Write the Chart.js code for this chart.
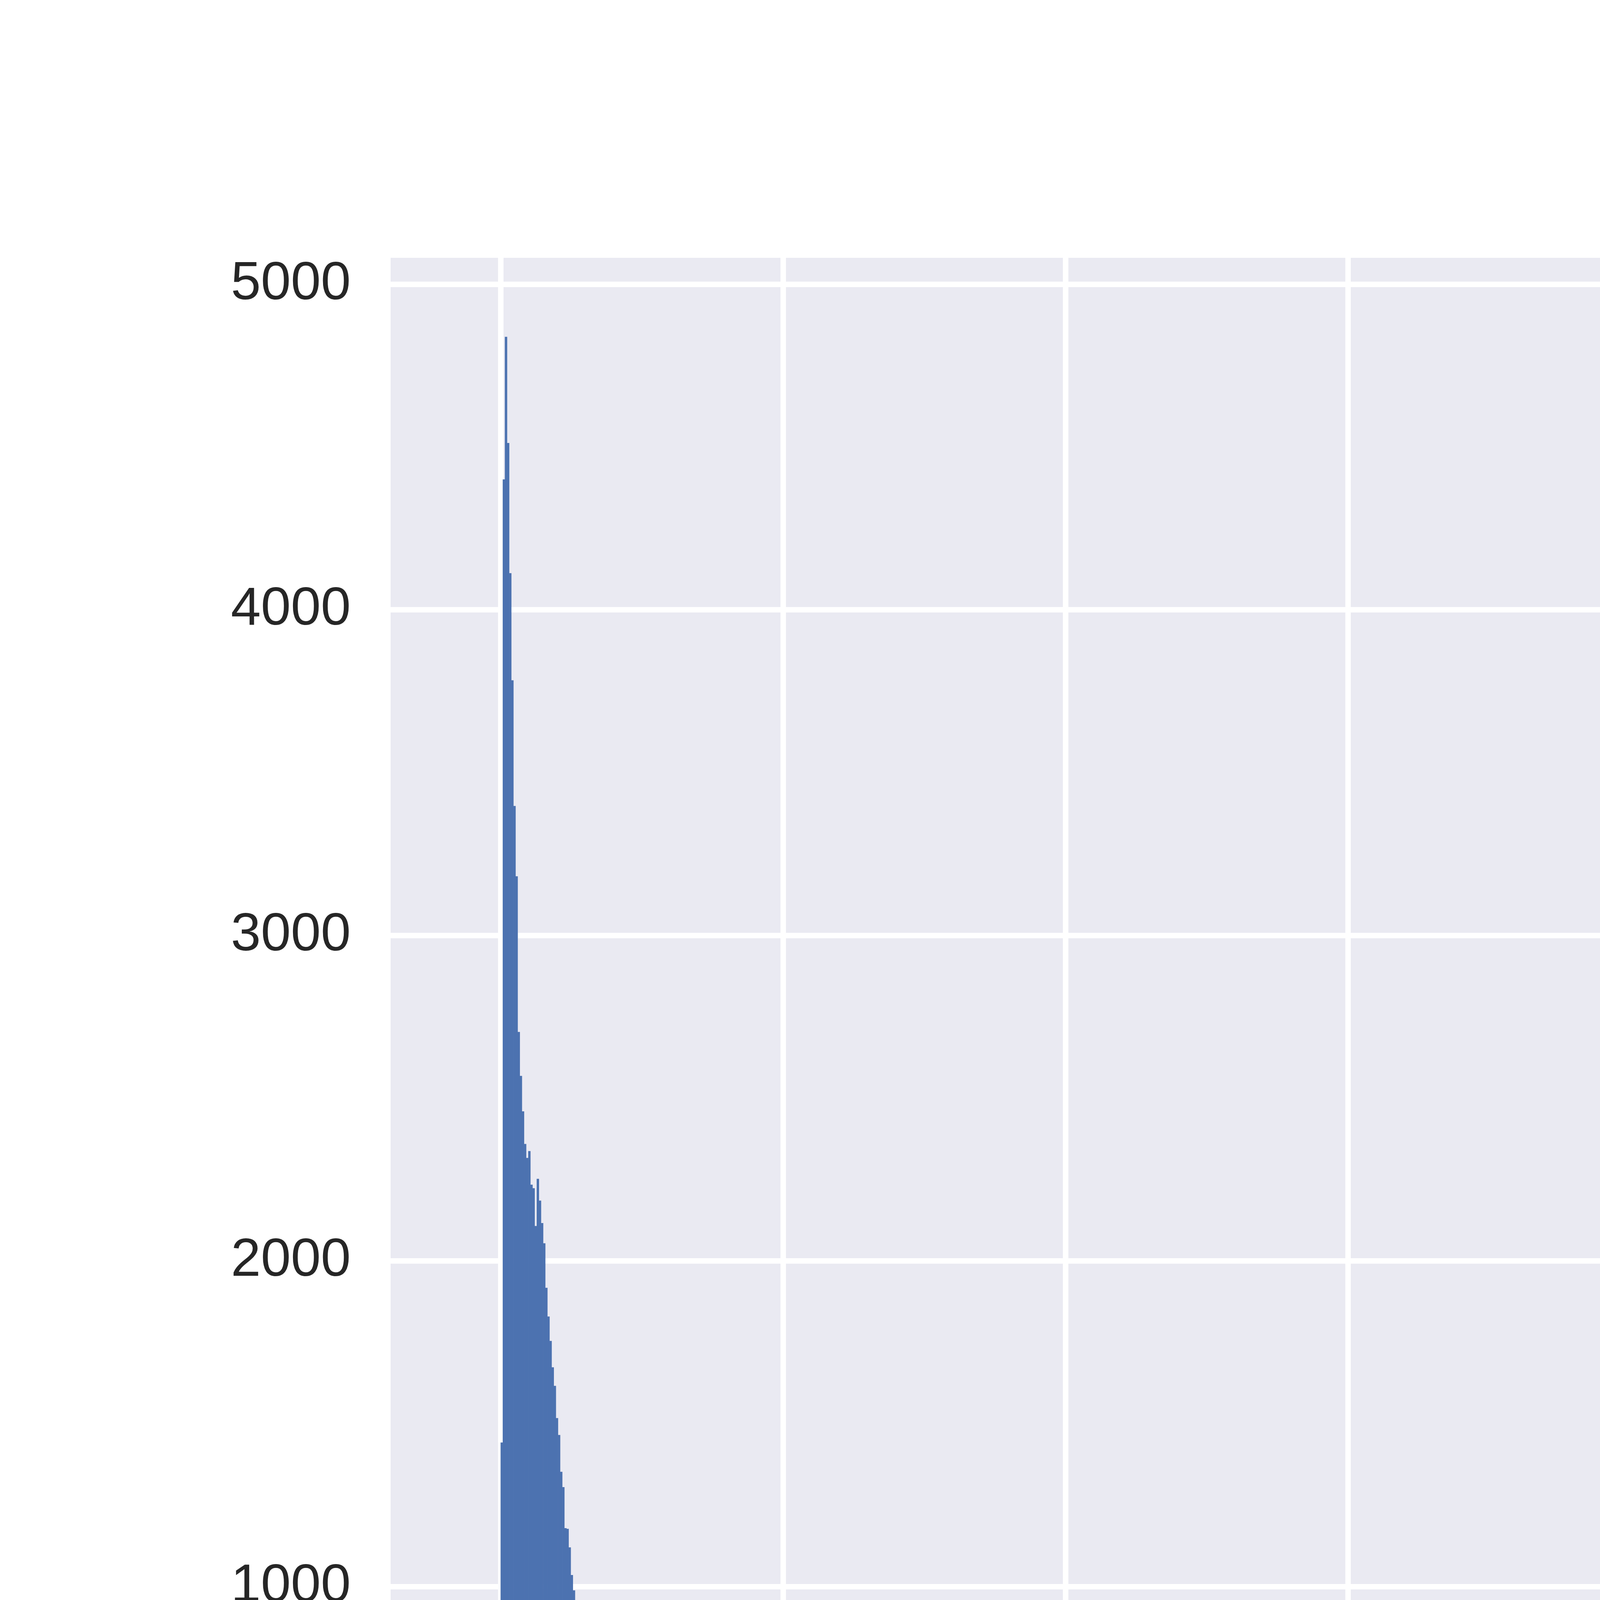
<!DOCTYPE html>
<html>
<head>
<meta charset="utf-8">
<script src="https://cdn.jsdelivr.net/npm/chart.js@4.4.1/dist/chart.umd.min.js"></script>
<style>
  html, body { margin: 0; padding: 0; background: #ffffff; }
  #wrap { width: 8000px; height: 5500px; }
</style>
</head>
<body>
<div id="wrap"><canvas id="histChart" width="8000" height="5500"></canvas></div>
<script>
// histogram bins: equal width, starting at 0
const binStart = 0;
const binWidth = 375.9;
const binCount = 1037;

// counts for bins 0..389
const countsHead = [
  1442, 4400, 4838, 4512, 4112, 3783, 3397, 3181, 2703, 2568,
  2459, 2359, 2316, 2337, 2234, 2223, 2107, 2252, 2185, 2116,
  2054, 1917, 1829, 1754, 1673, 1616, 1517, 1465, 1352, 1305,
  1179, 1177, 1120, 1035, 988, 870, 799, 778, 742, 718,
  637, 584, 640, 523, 519, 474, 431, 418, 412, 400,
  360, 315, 316, 302, 312, 280, 272, 243, 230, 247,
  211, 216, 183, 219, 157, 177, 147, 152, 158, 127,
  152, 130, 123, 133, 117, 127, 100, 89, 83, 105,
  77, 75, 83, 70, 75, 68, 75, 54, 54, 62,
  73, 43, 63, 57, 60, 56, 45, 40, 43, 49,
  38, 34, 50, 34, 37, 38, 36, 31, 35, 42,
  26, 31, 28, 28, 25, 28, 32, 28, 29, 19,
  18, 23, 23, 23, 22, 26, 24, 22, 32, 25,
  20, 20, 10, 16, 14, 20, 14, 14, 16, 16,
  18, 9, 15, 12, 20, 15, 21, 10, 15, 10,
  12, 13, 14, 8, 12, 14, 20, 14, 8, 8,
  19, 15, 8, 8, 10, 8, 8, 12, 8, 3,
  14, 12, 14, 12, 10, 9, 14, 7, 8, 7,
  4, 7, 8, 16, 15, 8, 12, 12, 2, 8,
  7, 10, 2, 4, 8, 2, 4, 4, 7, 4,
  6, 2, 8, 6, 10, 2, 1, 8, 3, 2,
  3, 14, 6, 7, 4, 3, 4, 2, 4, 2,
  4, 2, 6, 3, 3, 3, 7, 3, 10, 7,
  4, 2, 6, 2, 6, 8, 8, 2, 4, 3,
  2, 4, 3, 2, 3, 3, 1, 2, 4, 4,
  4, 4, 4, 3, 7, 1, 2, 2, 0, 4,
  0, 2, 7, 2, 1, 2, 2, 3, 2, 4,
  2, 2, 2, 2, 2, 2, 4, 2, 3, 4,
  3, 2, 2, 2, 1, 2, 2, 2, 2, 2,
  0, 2, 2, 1, 1, 2, 1, 2, 2, 2,
  7, 3, 2, 0, 0, 1, 1, 1, 2, 2,
  0, 2, 2, 2, 1, 1, 1, 2, 1, 2,
  2, 1, 0, 3, 2, 0, 2, 0, 0, 2,
  2, 2, 1, 0, 1, 1, 2, 2, 2, 2,
  1, 0, 1, 0, 1, 1, 1, 1, 0, 1,
  3, 1, 0, 1, 1, 1, 0, 1, 1, 2,
  0, 1, 0, 0, 0, 1, 2, 0, 0, 0,
  0, 1, 0, 0, 1, 0, 0, 0, 1, 0,
  1, 0, 1, 1, 1, 1, 1, 1, 1, 1
];

// sparse tail: only the bins past 389 that hold anything
const tailBins = [
  394, 395, 399, 400, 402, 403, 404, 406, 407, 408, 409, 412, 413, 414,
  418, 420, 423, 425, 436, 439, 440, 443, 451, 453, 455, 457, 460, 461,
  462, 478, 479, 480, 486, 489, 490, 493, 499, 501, 502, 524, 531, 539,
  545, 549, 577, 586, 589, 636, 642, 647, 650, 653, 666, 707, 879, 1036
];
const tailCounts = [
  1, 2, 1, 1, 1, 1, 1, 1, 1, 1, 1, 2, 2, 1,
  1, 1, 1, 1, 1, 1, 1, 1, 1, 1, 1, 1, 1, 1,
  2, 1, 1, 1, 1, 1, 1, 1, 1, 1, 1, 1, 1, 1,
  1, 1, 1, 1, 1, 1, 1, 1, 1, 1, 1, 1, 1, 1
];

const xTicks = [0, 50000, 100000, 150000, 200000, 250000, 300000, 350000, 400000];
const yTicks = [0, 1000, 2000, 3000, 4000, 5000];

// put the bins together (empty bins -> null so no sliver gets drawn)
const counts = new Array(binCount).fill(0);
countsHead.forEach((c, i) => { counts[i] = c; });
tailBins.forEach((b, i) => { counts[b] = tailCounts[i]; });
const points = counts.map((c, i) => ({ x: binStart + (i + 0.5) * binWidth, y: c > 0 ? c : null }));

// grey plot background like seaborn darkgrid
const plotBg = {
  id: 'plotBg',
  beforeDraw(chart) {
    const a = chart.chartArea;
    const c = chart.ctx;
    c.save();
    c.fillStyle = '#EAEAF2';
    c.fillRect(a.left, a.top, a.right - a.left, a.bottom - a.top);
    c.restore();
  }
};

const tickFont = { family: '"Liberation Sans", Arial, sans-serif', size: 138 };
const plainNumber = v => String(v);

const ctx = document.getElementById('histChart');

new Chart(ctx, {
  type: 'bar',
  data: {
    datasets: [{
      data: points,
      backgroundColor: '#4C72B0',
      borderWidth: 0,
      barPercentage: 1,
      categoryPercentage: 1
    }]
  },
  options: {
    responsive: false,
    devicePixelRatio: 1,
    animation: false,
    events: [],
    layout: { padding: { top: 660, right: 800, bottom: 0, left: 0 } },
    plugins: {
      legend: { display: false },
      tooltip: { enabled: false }
    },
    scales: {
      x: {
        type: 'linear',
        offset: false,
        min: -19490,
        max: 409300,
        afterBuildTicks: s => { s.ticks = xTicks.map(v => ({ value: v })); },
        afterFit: s => { s.height = 605; },
        grid: { color: '#ffffff', lineWidth: 14, drawTicks: false, offset: false },
        border: { display: false },
        ticks: { font: tickFont, color: '#262626', padding: 66, maxRotation: 0, autoSkip: false, callback: plainNumber }
      },
      y: {
        min: 0,
        max: 5081,
        afterBuildTicks: s => { s.ticks = yTicks.map(v => ({ value: v })); },
        afterFit: s => { s.width = 1000; },
        grid: { color: '#ffffff', lineWidth: 14, drawTicks: false },
        border: { display: false },
        ticks: { font: tickFont, color: '#262626', padding: 102, callback: plainNumber }
      }
    }
  },
  plugins: [plotBg]
});
</script>
</body>
</html>
